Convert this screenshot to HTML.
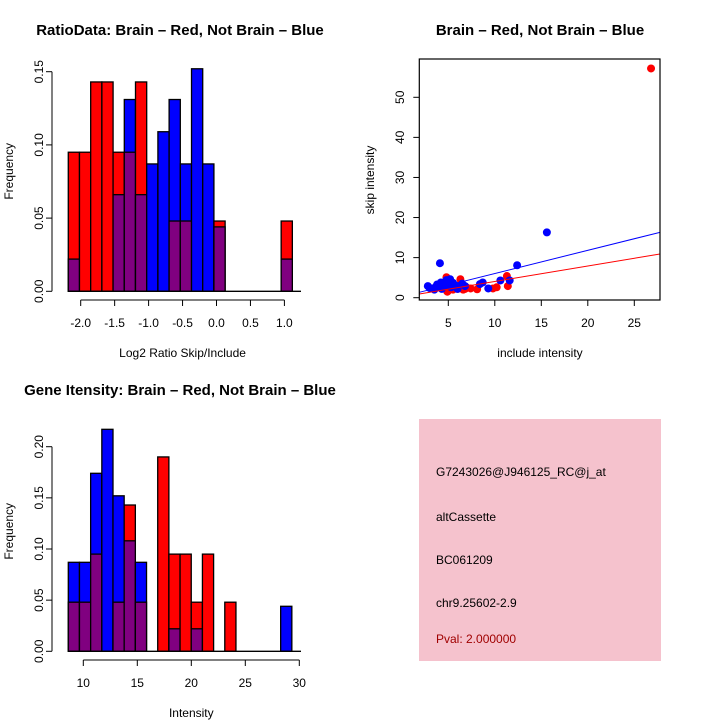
<!DOCTYPE html>
<html><head><meta charset="utf-8"><style>
body{margin:0;background:#fff}
svg{display:block;font-family:"Liberation Sans",sans-serif}
</style></head><body>
<svg id="c" width="720" height="720" viewBox="0 0 720 720">
<rect x="419" y="419" width="242" height="242" fill="#f5c2cd"/>
<g font-size="12" fill="#000">
<text x="436" y="476">G7243026@J946125_RC@j_at</text>
<text x="436" y="521">altCassette</text>
<text x="436" y="564">BC061209</text>
<text x="436" y="607">chr9.25602-2.9</text>
<text x="436" y="643" fill="#a00000">Pval: 2.000000</text>
</g>
</svg>
<script>
// Histogram 1: log2 ratio
const ratioStart = -2.183, ratioStep = 0.165;
const ratioRed = [0.095,0.095,0.143,0.143,0.095,0.095,0.143,0,0,0.048,0.048,0,0,0.048,0,0,0,0,0,0.048];
const ratioBlue = [0.022,0,0,0,0.066,0.131,0.066,0.087,0.109,0.131,0.087,0.152,0.087,0.044,0,0,0,0,0,0.022];
const ratioXTicks = [-2.0,-1.5,-1.0,-0.5,0.0,0.5,1.0];
const ratioXLabels = ["-2.0","-1.5","-1.0","-0.5","0.0","0.5","1.0"];
const ratioYTicks = [0,0.05,0.10,0.15];
const ratioYLabels = ["0.00","0.05","0.10","0.15"];
// Histogram 2: intensity
const intStart = 8.61, intStep = 1.035;
const intRed = [0.048,0.048,0.095,0,0.048,0.143,0.048,0,0.190,0.095,0.095,0.048,0.095,0,0.048,0,0,0,0,0];
const intBlue = [0.087,0.087,0.174,0.217,0.152,0.108,0.087,0,0,0.022,0,0.022,0,0,0,0,0,0,0,0.044];
const intXTicks = [10,15,20,25,30];
const intYTicks = [0,0.05,0.10,0.15,0.20];
const intYLabels = ["0.00","0.05","0.10","0.15","0.20"];
// Scatter
const redX = [26.8,11.3,11.4,10.2,9.8,8.1,7.4,6.8,6.3,6.5,4.8,4.9,5.5,5.8,6.0,6.6,4.7,4.0,7.0,5.2,4.5];
const redY = [57.2,5.4,2.9,2.6,2.3,2.1,2.3,2.2,4.6,2.6,5.1,1.5,2.0,2.5,2.2,2.0,2.5,3.0,2.5,4.0,3.5];
const blueX = [15.6,12.4,4.1,2.8,3.2,3.5,3.8,4.2,4.5,4.8,5.2,5.5,5.8,6.0,6.5,6.8,8.4,8.7,9.3,10.6,11.6,3.6,4.3,5.0,4.6,5.3,3.0,3.9];
const blueY = [16.3,8.1,8.6,2.9,2.3,2.0,3.3,3.8,2.8,4.4,4.6,3.7,3.0,2.2,3.5,2.9,3.4,3.8,2.3,4.3,4.3,2.6,2.2,3.0,3.5,2.6,2.4,2.7];
const redFit = [0.19,0.386];  // intercept, slope
const blueFit = [0.26,0.578];
const scXTicks = [5,10,15,20,25];
const scYTicks = [0,10,20,30,40,50];

const svg = document.getElementById('c');
const NS = 'http://www.w3.org/2000/svg';
function mk(tag, attrs, parent){ const e=document.createElementNS(NS,tag); for(const k in attrs) e.setAttribute(k,attrs[k]); (parent||svg).appendChild(e); return e; }
function txt(s, attrs, parent){ const e=mk('text',attrs,parent); e.textContent=s; return e; }

function hist(cfg){
  const g = mk('g',{});
  
  
  const X = v => cfg.x0 + (v - cfg.xa) * cfg.xs;
  const Y = v => cfg.y0 - v * cfg.ys;
  for(let i=0;i<cfg.red.length;i++){
    const a = X(cfg.start + i*cfg.step), b = X(cfg.start + (i+1)*cfg.step);
    const r = cfg.red[i], bl = cfg.blue[i];
    const hi = Math.max(r,bl), lo = Math.min(r,bl);
    if(hi>0){
      const bar = mk('rect',{x:a,y:Y(hi),width:b-a,height:Y(0)-Y(hi),fill:r>=bl?'#ff0000':'#0000ff',stroke:'#000','stroke-width':1.3},g);
      
      
    }
    if(lo>0){
      const ov = mk('rect',{x:a,y:Y(lo),width:b-a,height:Y(0)-Y(lo),fill:'#800080',stroke:'#000','stroke-width':1.3},g);
      
      
    }
  }
  mk('line',{x1:X(cfg.start),x2:cfg.baseEnd,y1:Y(0),y2:Y(0),stroke:'#000','stroke-width':1.3},g);
  const ax = mk('g',{},g);
  
  
  const xt = cfg.xticks, xl = cfg.xlabels;
  mk('line',{x1:X(xt[0]),x2:X(xt[xt.length-1]),y1:cfg.axY,y2:cfg.axY,stroke:'#000'},ax);
  xt.forEach((t,i)=>{ mk('line',{x1:X(t),x2:X(t),y1:cfg.axY,y2:cfg.axY+6,stroke:'#000'},ax);
    txt(xl[i],{x:X(t),y:cfg.axY+27,'font-size':12,'text-anchor':'middle'},ax); });
  const ay = mk('g',{},g);
  
  
  const yt = cfg.yticks;
  mk('line',{x1:52,x2:52,y1:Y(yt[0]),y2:Y(yt[yt.length-1]),stroke:'#000'},ay);
  yt.forEach((t,i)=>{ mk('line',{x1:46,x2:52,y1:Y(t),y2:Y(t),stroke:'#000'},ay);
    txt(cfg.ylabels[i],{x:0,y:0,'font-size':12,'text-anchor':'middle',transform:`translate(43,${Y(t)}) rotate(-90)`},ay); });
  const yl = txt('Frequency',{x:0,y:0,'font-size':12,'text-anchor':'middle',transform:`translate(13,${cfg.y0-120}) rotate(-90)`},g);
   
  const xlb = txt(cfg.xlabel,{x:X((xt[0]+xt[xt.length-1])/2),y:cfg.axY+57,'font-size':12,'text-anchor':'middle'},g);
   
  const tt = txt(cfg.title,{x:cfg.titleX,y:cfg.titleY,'font-size':15,'font-weight':'bold','text-anchor':'middle'},g);
   
}

hist({name:'ratio-histogram',red:ratioRed,blue:ratioBlue,start:ratioStart,step:ratioStep,
  x0:80.7,xa:-2.0,xs:67.9,y0:291.3,ys:1464,baseEnd:301,axY:300,
  xticks:ratioXTicks,xlabels:ratioXLabels,yticks:ratioYTicks,ylabels:ratioYLabels,
  xlabel:'Log2 Ratio Skip/Include',title:'RatioData: Brain \u2013 Red, Not Brain \u2013 Blue',titleX:180,titleY:35});
hist({name:'intensity-histogram',red:intRed,blue:intBlue,start:intStart,step:intStep,
  x0:83.3,xa:10,xs:10.8,y0:651.3,ys:1023,baseEnd:301,axY:660,
  xticks:intXTicks,xlabels:intXTicks.map(String),yticks:intYTicks,ylabels:intYLabels,
  xlabel:'Intensity',title:'Gene Itensity: Brain \u2013 Red, Not Brain \u2013 Blue',titleX:180,titleY:395});

(function(){
  const g = mk('g',{});
  
  
  const L=419.3,R=660,T=59,B=300;
  const X = v => 448.3 + (v-5)*9.3;
  const Y = v => 297.7 - v*4.008;
  const clip = mk('clipPath',{id:'sc'},g); mk('rect',{x:L,y:T,width:R-L,height:B-T},clip);
  const pts = mk('g',{'clip-path':'url(#sc)'},g);
  redX.forEach((x,i)=>{ const c=mk('circle',{cx:X(x),cy:Y(redY[i]),r:4,fill:'#ff0000'},pts);
      });
  blueX.forEach((x,i)=>{ const c=mk('circle',{cx:X(x),cy:Y(blueY[i]),r:4,fill:'#0000ff'},pts);
      });
  const xL=(L-448.3)/9.3+5, xR=(R-448.3)/9.3+5;
  const rl=mk('line',{x1:L,x2:R,y1:Y(redFit[0]+redFit[1]*xL),y2:Y(redFit[0]+redFit[1]*xR),stroke:'#ff0000'},pts);
   
  const bl=mk('line',{x1:L,x2:R,y1:Y(blueFit[0]+blueFit[1]*xL),y2:Y(blueFit[0]+blueFit[1]*xR),stroke:'#0000ff'},pts);
   
  mk('rect',{x:L,y:T,width:R-L,height:B-T,fill:'none',stroke:'#000','stroke-width':1.2},g);
  scXTicks.forEach(t=>{ mk('line',{x1:X(t),x2:X(t),y1:B,y2:B+6,stroke:'#000'},g);
    txt(String(t),{x:X(t),y:B+27,'font-size':12,'text-anchor':'middle'},g); });
  scYTicks.forEach(t=>{ mk('line',{x1:L-6,x2:L,y1:Y(t),y2:Y(t),stroke:'#000'},g);
    txt(String(t),{x:0,y:0,'font-size':12,'text-anchor':'middle',transform:`translate(404,${Y(t)}) rotate(-90)`},g); });
  const xt=txt('include intensity',{x:540,y:357,'font-size':12,'text-anchor':'middle'},g);
   
  const yt=txt('skip intensity',{x:0,y:0,'font-size':12,'text-anchor':'middle',transform:'translate(374,180) rotate(-90)'},g);
   
  const tt=txt('Brain \u2013 Red, Not Brain \u2013 Blue',{x:540,y:35,'font-size':15,'font-weight':'bold','text-anchor':'middle'},g);
   
})();
</script>
</body></html>
